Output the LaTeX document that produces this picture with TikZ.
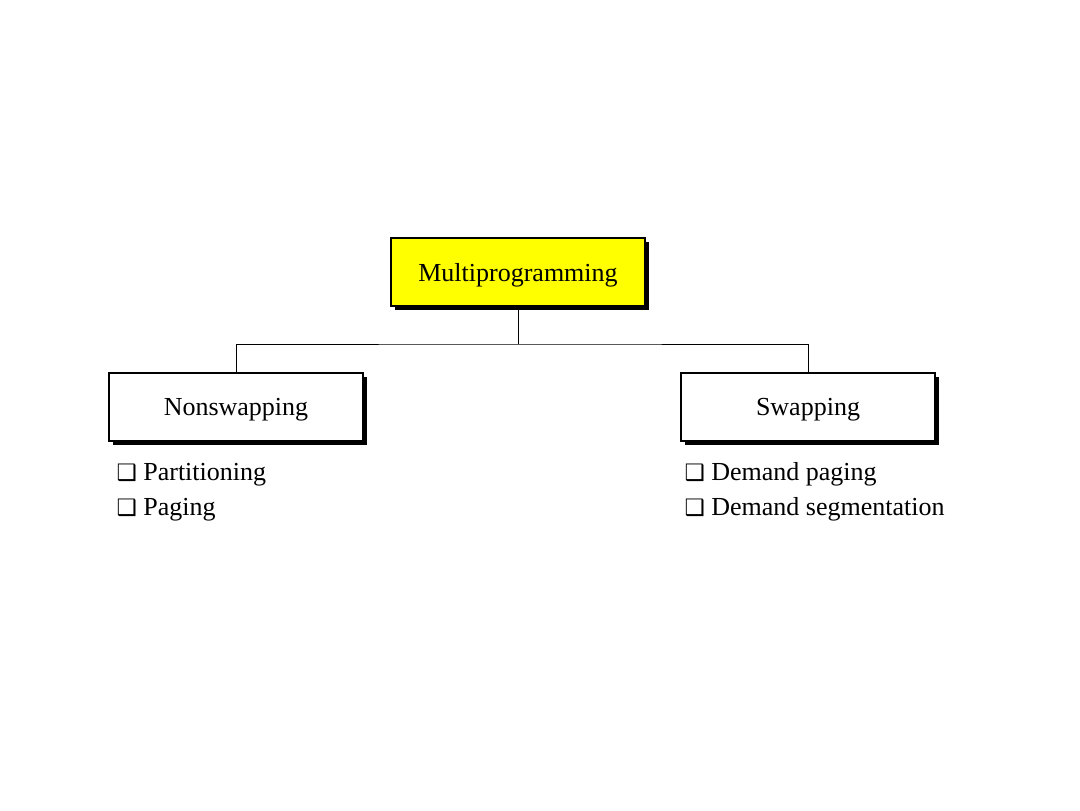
\documentclass[tikz,border=0pt]{standalone}
\usepackage{fontspec}
\setmainfont{Liberation Serif}
\newfontfamily\boxsymfont{DejaVu Sans}
\usetikzlibrary{positioning, shadows}
\definecolor{multiYellow}{RGB}{255, 255, 0}

\newcommand{\chkbox}{{\boxsymfont\fontsize{17pt}{20pt}\selectfont ❑}\hspace{0.25em}}

\begin{document}
\begin{tikzpicture}[x=0.75pt, y=-0.75pt]
    \tikzset{block/.style = {draw, rectangle, fill=white, line width=1.1pt, minimum width=190.5pt, minimum height=51pt, text depth=0pt, font=\fontsize{19.5pt}{23pt}\selectfont, drop shadow={shadow xshift=3pt, shadow yshift=-3pt, fill=black, opacity=1}}}
    \tikzset{item/.style = {inner sep=0pt, font=\fontsize{19.5pt}{23pt}\selectfont}}
    \tikzset{line/.style = {draw, line width=0.7pt}}

    \useasboundingbox (0,0) rectangle (1080,810);

    \node [block, fill=multiYellow] (multi) at (518,272) {Multiprogramming};
    \node [block] (nonswap) at (236,407) {Nonswapping};
    \node [block] (swap) at (808,407) {Swapping};
    \coordinate (bar) at (518,344);

    % items under the boxes
    \node [item, anchor=base west] (partition) at ([xshift=6pt, yshift=-29pt]nonswap.south west) {\chkbox Partitioning};
    \node [item, below=26pt of partition.base west, anchor=base west] (paging) {\chkbox Paging};
    \node [item, anchor=base west] (dempaging) at ([xshift=3pt, yshift=-29pt]swap.south west) {\chkbox Demand paging};
    \node [item, below=26pt of dempaging.base west, anchor=base west] (demseg) {\chkbox Demand segmentation};

    \path [line] (multi.south) -- (bar);
    \path [line] (nonswap.north) |- (bar) -| (swap.north);
\end{tikzpicture}
\end{document}
